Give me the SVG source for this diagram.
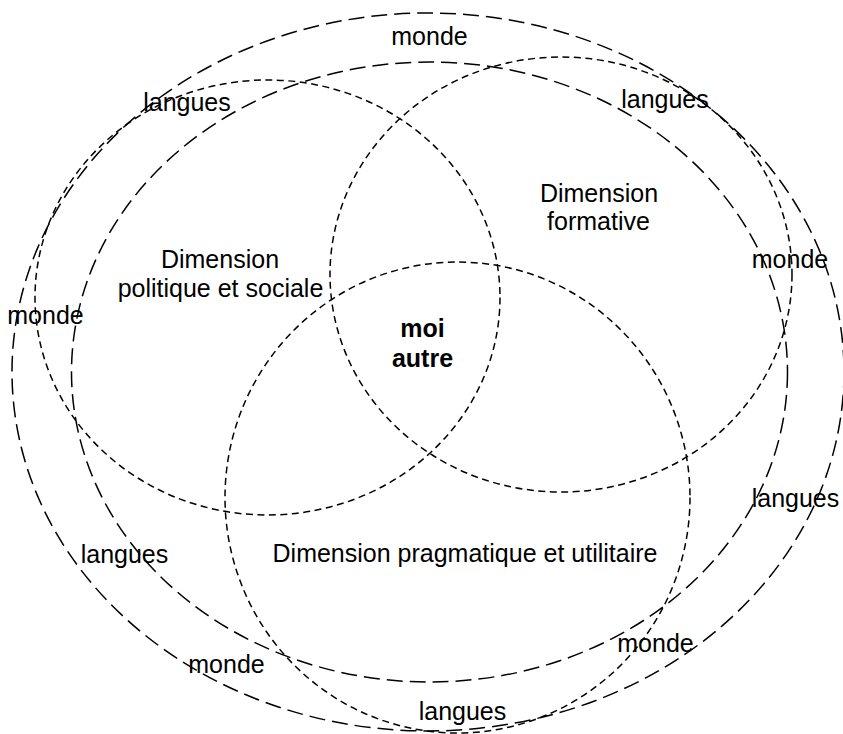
<svg xmlns="http://www.w3.org/2000/svg" width="843" height="734" viewBox="0 0 843 734">
<style>
.long{fill:none;stroke:#000;stroke-width:1.5;stroke-dasharray:16 7}
.short{fill:none;stroke:#000;stroke-width:1.5;stroke-dasharray:7 4.5}
text{font-family:"Liberation Sans",Arial,sans-serif;font-size:25px;fill:#000;text-anchor:middle}
.b{font-weight:bold}
</style>
<rect width="843" height="734" fill="#fff"/>
<g id="connectors"></g>
<g id="monde-ellipse"><ellipse class="long" cx="428" cy="372" rx="416" ry="359"/></g>
<g id="langues-ellipse"><ellipse class="long" cx="429.5" cy="372" rx="358" ry="310"/></g>
<g id="dimension-politique"><ellipse class="short" cx="267.5" cy="297.5" rx="232.5" ry="217.5"/>
<text x="220" y="268">Dimension</text><text x="220.5" y="297">politique et sociale</text></g>
<g id="dimension-formative"><ellipse class="short" cx="561" cy="274.5" rx="231" ry="217.5"/>
<text x="599" y="202">Dimension</text><text x="598.5" y="230">formative</text></g>
<g id="dimension-pragmatique"><ellipse class="short" cx="457.5" cy="497.5" rx="232.5" ry="235.5"/>
<text x="465" y="562">Dimension pragmatique et utilitaire</text></g>
<g id="centre"><text class="b" x="422.5" y="337">moi</text><text class="b" x="422.5" y="367">autre</text></g>
<g id="labels">
<text x="429.5" y="45">monde</text>
<text x="187" y="111">langues</text>
<text x="665" y="108">langues</text>
<text x="790" y="268">monde</text>
<text x="45.5" y="324">monde</text>
<text x="795.5" y="507">langues</text>
<text x="124.5" y="563">langues</text>
<text x="226.5" y="673">monde</text>
<text x="655.5" y="652">monde</text>
<text x="462.5" y="720">langues</text>
</g>
</svg>
